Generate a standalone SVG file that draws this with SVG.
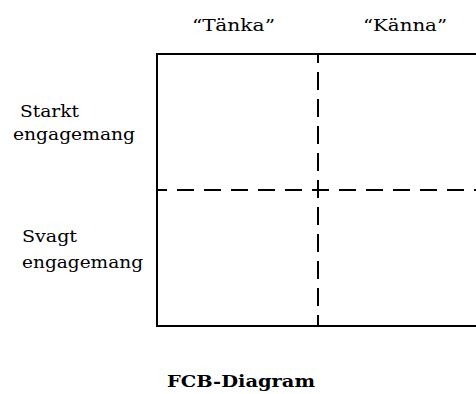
<svg xmlns="http://www.w3.org/2000/svg" width="476" height="394" viewBox="0 0 476 394">
<style>
.t{font-family:"DejaVu Serif","Liberation Serif",serif;font-size:16px;fill:#000}
.b{font-family:"DejaVu Serif","Liberation Serif",serif;font-size:16px;font-weight:bold;fill:#000}
.frame{fill:none;stroke:#000;stroke-width:2}
.dash{stroke:#000;stroke-width:2;fill:none}
</style>
<rect width="476" height="394" fill="#fff"/>
<g id="grid">
<rect class="frame" x="157" y="54" width="330" height="272"/>
</g>
<g id="connectors">
<line class="dash" x1="318" y1="54" x2="318" y2="326" stroke-dasharray="18 9" stroke-dashoffset="9"/>
<line class="dash" x1="157" y1="190" x2="476" y2="190" stroke-dasharray="17 10" stroke-dashoffset="7"/>
</g>
<g id="col-tanka"><text class="t" x="192" y="31" textLength="83" lengthAdjust="spacingAndGlyphs">“Tänka”</text></g>
<g id="col-kanna"><text class="t" x="363" y="31" textLength="84" lengthAdjust="spacingAndGlyphs">“Känna”</text></g>
<g id="row-starkt">
<text class="t" x="20" y="117" textLength="59" lengthAdjust="spacingAndGlyphs">Starkt</text>
<text class="t" x="13" y="140" textLength="122" lengthAdjust="spacingAndGlyphs">engagemang</text>
</g>
<g id="row-svagt">
<text class="t" x="22" y="242" textLength="55" lengthAdjust="spacingAndGlyphs">Svagt</text>
<text class="t" x="22" y="268" textLength="121" lengthAdjust="spacingAndGlyphs">engagemang</text>
</g>
<g id="title"><text class="b" x="167" y="387" textLength="148" lengthAdjust="spacingAndGlyphs">FCB-Diagram</text></g>
</svg>
